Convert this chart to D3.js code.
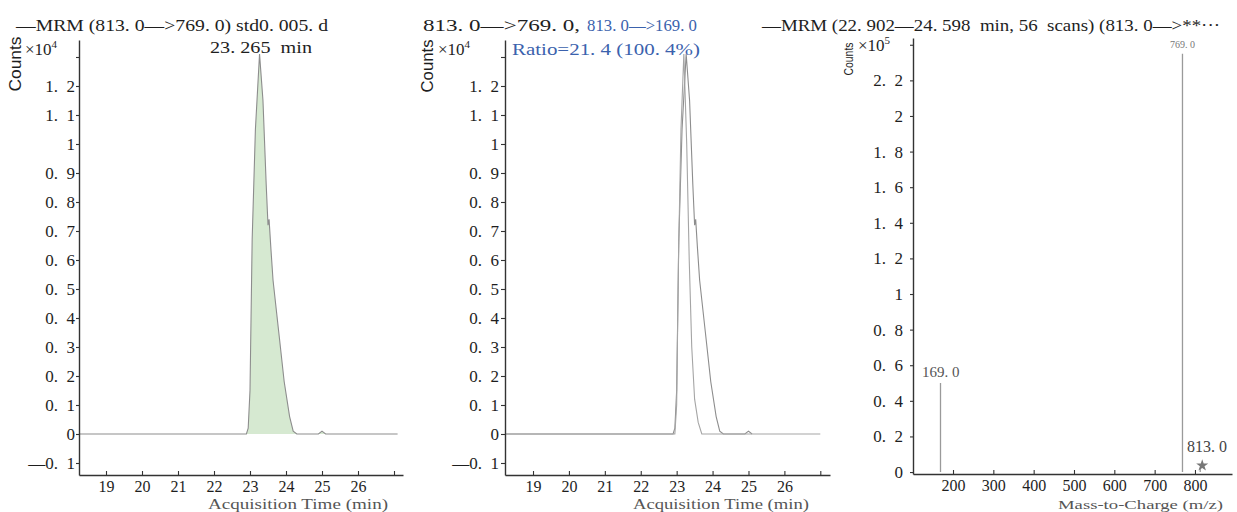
<!DOCTYPE html>
<html><head><meta charset="utf-8">
<script src="https://cdn.jsdelivr.net/npm/d3@7"></script>
<style>
body{margin:0;background:#fff;}
svg text{white-space:pre;}
</style></head><body>
<svg id="chart" width="1237" height="512"></svg>
<script>
// ---------- data ----------
const chromTimes = [18.25, 22.9, 22.95, 23.0, 23.06, 23.15, 23.265, 23.36, 23.45, 23.5, 23.53, 23.58, 23.64, 23.8, 23.95, 24.1, 24.2, 24.3, 24.9, 25.0, 25.1, 27.1];
const counts769 = [0, 0, 0.02, 0.15, 0.67, 1.05, 1.31, 1.15, 0.86, 0.72, 0.74, 0.64, 0.53, 0.35, 0.18, 0.06, 0.01, 0, 0, 0.01, 0, 0];
const qualTimes = [18.25, 22.95, 23.0, 23.05, 23.12, 23.2, 23.28, 23.35, 23.42, 23.5, 23.6, 23.7, 27.0];
const counts169Scaled = [0, 0, 0.1, 0.6, 1.05, 1.31, 1.0, 0.6, 0.3, 0.12, 0.04, 0, 0];
const mzValues = [169.0, 769.0, 813.0];
const mzCounts = [0.5, 2.35, 0.02];
const mzLabels = ["169. 0", "769. 0", "813. 0"];
const timeTicks = [19, 20, 21, 22, 23, 24, 25, 26, 27];
const timeTickLabels = ["19", "20", "21", "22", "23", "24", "25", "26", ""];
const chromYTicks = [-0.1, 0, 0.1, 0.2, 0.3, 0.4, 0.5, 0.6, 0.7, 0.8, 0.9, 1.0, 1.1, 1.2, 1.3];
const chromYTickLabels = ["\u20140.  1", "0", "0.  1", "0.  2", "0.  3", "0.  4", "0.  5", "0.  6", "0.  7", "0.  8", "0.  9", "1", "1.  1", "1.  2", ""];
const mzTicks = [200, 300, 400, 500, 600, 700, 800];
const mzTickLabels = ["200", "300", "400", "500", "600", "700", "800"];
const specYTicks = [0, 0.2, 0.4, 0.6, 0.8, 1.0, 1.2, 1.4, 1.6, 1.8, 2.0, 2.2, 2.4];
const specYTickLabels = ["0", "0.  2", "0.  4", "0.  6", "0.  8", "1", "1.  2", "1.  4", "1.  6", "1.  8", "2", "2.  2", ""];
const peakTime = "23. 265  min";
const ratioText = "Ratio=21. 4 (100. 4%)";

// ---------- helpers ----------
const svg = d3.select("#chart");
const SERIF = "'Liberation Serif','DejaVu Serif',serif";
const SANS = "'Liberation Sans',Arial,sans-serif";
const INK = "#1e1e1e";
const AX = "#333";
const BLUE = "#3b62ad";

function styleAxis(g, fs) {
  g.attr("font-family", SERIF).attr("font-size", fs);
  g.select(".domain").attr("stroke", AX).attr("stroke-width", 1.4);
  g.selectAll(".tick line").attr("stroke", AX).attr("stroke-width", 1.1);
  g.selectAll(".tick text").attr("fill", INK);
}
function text(x, y, str, opts = {}) {
  const t = svg.append("text").attr("x", x).attr("y", y)
    .attr("font-family", opts.family || SERIF)
    .attr("font-size", opts.size || 15)
    .attr("fill", opts.fill || INK)
    .attr("text-anchor", opts.anchor || "start")
    .text(str);
  if (opts.len) t.attr("textLength", opts.len).attr("lengthAdjust", "spacingAndGlyphs");
  return t;
}
function countsLabel(cx, cy, len, fs, exp, ex, ey) {
  svg.append("text").attr("transform", `translate(${cx},${cy}) rotate(-90)`)
    .attr("text-anchor", "middle").attr("font-family", SANS).attr("font-size", fs)
    .attr("textLength", len).attr("lengthAdjust", "spacingAndGlyphs")
    .attr("fill", INK).text("Counts");
  const t = svg.append("text").attr("x", ex).attr("y", ey).attr("font-family", SERIF)
    .attr("font-size", 17).attr("fill", INK);
  t.append("tspan").text("\u00d710");
  t.append("tspan").attr("font-size", 11).attr("dy", -7).text(exp);
}

// ---------- panel 1 ----------
const x1 = d3.scaleLinear().domain([18.25, 27.25]).range([79, 403]);
const yC1 = d3.scaleLinear().domain([-0.1414, 1.3586]).range([475, 40]);
const pts769 = chromTimes.map((t, i) => [t, counts769[i]]);
svg.append("path").datum(pts769)
  .attr("d", d3.area().x(d => x1(d[0])).y0(yC1(0)).y1(d => yC1(d[1])))
  .attr("fill", "#d6e9d1").attr("stroke", "none");
svg.append("path").datum(pts769)
  .attr("d", d3.line().x(d => x1(d[0])).y(d => yC1(d[1])))
  .attr("fill", "none").attr("stroke", "#8d8d8d").attr("stroke-width", 1.1);
svg.append("g").attr("transform", "translate(79,0)")
  .call(d3.axisLeft(yC1).tickValues(chromYTicks).tickFormat((d, i) => chromYTickLabels[i]).tickSize(3).tickPadding(1).tickSizeOuter(0))
  .call(g => styleAxis(g, 17));
svg.append("g").attr("transform", "translate(0,475)")
  .call(d3.axisBottom(x1).tickValues(timeTicks).tickFormat((d, i) => timeTickLabels[i]).tickSize(-4).tickPadding(6).tickSizeOuter(0))
  .call(g => styleAxis(g, 16));
text(16, 31, "\u2014MRM (813. 0\u2014>769. 0) std0. 005. d", { size: 17, len: 312 });
text(210, 53, peakTime, { size: 17, len: 102 });
countsLabel(21, 64, 55, 16, "4", 25, 55);
text(208, 509, "Acquisition Time (min)", { size: 14, len: 180, fill: "#555" });

// ---------- panel 2 ----------
const x2 = d3.scaleLinear().domain([18.22, 27.27]).range([505, 830]);
const yC2 = d3.scaleLinear().domain([-0.1414, 1.3586]).range([475, 40]);
const ptsQual = qualTimes.map((t, i) => [t, counts169Scaled[i]]);
const line2 = d3.line().x(d => x2(d[0])).y(d => yC2(d[1]));
svg.append("path").datum(pts769.filter(d => d[0] <= 27.0)).attr("d", line2)
  .attr("fill", "none").attr("stroke", "#8d8d8d").attr("stroke-width", 1.1);
svg.append("path").datum(ptsQual).attr("d", line2)
  .attr("fill", "none").attr("stroke", "#a5a5a5").attr("stroke-width", 1.1);
svg.append("g").attr("transform", "translate(505,0)")
  .call(d3.axisLeft(yC2).tickValues(chromYTicks).tickFormat((d, i) => chromYTickLabels[i]).tickSize(4).tickPadding(2).tickSizeOuter(0))
  .call(g => styleAxis(g, 17));
svg.append("g").attr("transform", "translate(0,475)")
  .call(d3.axisBottom(x2).tickValues(timeTicks).tickFormat((d, i) => timeTickLabels[i]).tickSize(-4).tickPadding(6).tickSizeOuter(0))
  .call(g => styleAxis(g, 16));
text(423, 31, "813. 0\u2014>769. 0,", { size: 17, len: 157 });
text(587, 31, "813. 0\u2014>169. 0", { size: 17, len: 110, fill: BLUE });
text(512, 55, ratioText, { size: 17, len: 188, fill: BLUE });
countsLabel(433, 66, 53, 16, "4", 438, 55);
text(633, 509, "Acquisition Time (min)", { size: 14, len: 176, fill: "#555" });

// ---------- panel 3 ----------
const x3 = d3.scaleLinear().domain([100.8, 891.8]).range([913, 1232]);
const y3 = d3.scaleLinear().domain([-0.011, 2.438]).range([474, 38]);
const spec = mzValues.map((m, i) => ({ m, c: mzCounts[i], label: mzLabels[i] }));
svg.selectAll(".bar").data(spec).enter().append("line")
  .attr("x1", d => x3(d.m)).attr("x2", d => x3(d.m))
  .attr("y1", y3(0)).attr("y2", d => y3(d.c))
  .attr("stroke", "#9a9a9a").attr("stroke-width", 1.3);
svg.append("path").attr("d", d3.symbol(d3.symbolStar, 45)())
  .attr("transform", `translate(${x3(mzValues[2]) + 2},${y3(mzCounts[2]) - 3})`)
  .attr("fill", "#777");
svg.append("g").attr("transform", "translate(913,0)")
  .call(d3.axisLeft(y3).tickValues(specYTicks).tickFormat((d, i) => specYTickLabels[i]).tickSize(3).tickPadding(7).tickSizeOuter(0))
  .call(g => styleAxis(g, 17));
svg.append("g").attr("transform", "translate(0,474)")
  .call(d3.axisBottom(x3).tickValues(mzTicks).tickFormat((d, i) => mzTickLabels[i]).tickSize(-4).tickPadding(6).tickSizeOuter(0))
  .call(g => styleAxis(g, 16));
text(762, 31, "\u2014MRM (22. 902\u201424. 598  min, 56  scans) (813. 0\u2014>**\u00b7\u00b7\u00b7", { size: 17, len: 458 });
text(x3(mzValues[1]), 48, mzLabels[1], { size: 10, anchor: "middle", fill: "#777" });
text(922, 377, mzLabels[0], { size: 15, fill: "#555" });
text(1187, 452, mzLabels[2], { size: 16, fill: "#444" });
countsLabel(853, 59, 33, 13, "5", 858, 51);
text(1058, 509, "Mass-to-Charge (m/z)", { size: 13, len: 165, fill: "#555" });
</script>
</body></html>
